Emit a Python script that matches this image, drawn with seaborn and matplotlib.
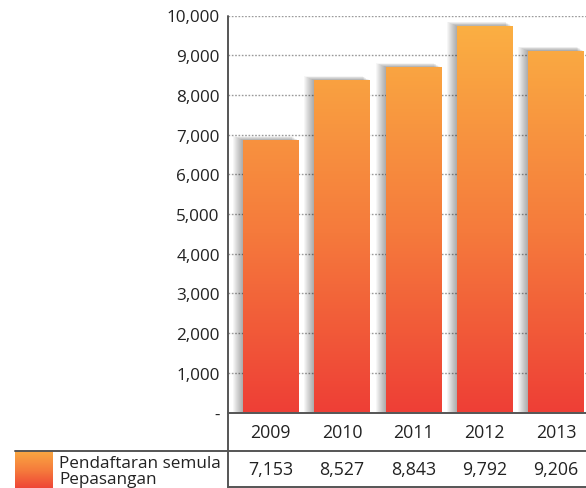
import numpy as np
import pandas as pd
import matplotlib
matplotlib.use("Agg")
import matplotlib.pyplot as plt
import seaborn as sns
from matplotlib.colors import LinearSegmentedColormap
from matplotlib.patches import Rectangle
from matplotlib.lines import Line2D
import matplotlib.transforms as mtransforms

# ---- data ----
years = ["2009", "2010", "2011", "2012", "2013"]
bar_heights = [6860, 8372, 8697, 9736, 9110]          # as drawn in the picture
table_values = ["7,153", "8,527", "8,843", "9,792", "9,206"]
series_label = "Pendaftaran semula\nPepasangan"
y_ticks = [0, 1000, 2000, 3000, 4000, 5000, 6000, 7000, 8000, 9000, 10000]
y_ticklabels = ["-", "1,000", "2,000", "3,000", "4,000", "5,000",
                "6,000", "7,000", "8,000", "9,000", "10,000"]

sns.set_style("white")
plt.rcParams["font.family"] = ["Open Sans", "DejaVu Sans"]

W, H = 586, 489
fig = plt.figure(figsize=(W / 100, H / 100), dpi=100)
ax_left, ax_right = 228 / W, 1.0
ax_bottom, ax_top = (H - 413.5) / H, (H - 16.5) / H
ax = fig.add_axes([ax_left, ax_bottom, ax_right - ax_left, ax_top - ax_bottom])

df = pd.DataFrame({"year": years, "value": bar_heights})
sns.barplot(data=df, x="year", y="value", ax=ax, width=0.78,
            color="#F47B3C", saturation=1, zorder=3)

ax.set_xlim(-0.6, 4.42)
ax.set_ylim(0, 10000)
ax.set_yticks(y_ticks)
ax.set_yticklabels(y_ticklabels, fontsize=12.3, color="#222222")
ax.tick_params(axis="y", length=0, pad=6)
ax.set_xticks([])
ax.set_xlabel("")
ax.set_ylabel("")
for s in ["top", "right", "bottom", "left"]:
    ax.spines[s].set_visible(False)

# dotted gridlines
for t in y_ticks[1:]:
    ax.axhline(t, color="#9a9a9a", lw=1.0, ls=(0, (1.2, 1.2)), zorder=1)

cmap = LinearSegmentedColormap.from_list(
    "grad", [(0.0, "#EE3F36"), (0.45, "#F57A3C"), (1.0, "#FBB243")])
grad = np.linspace(0, 1, 256).reshape(-1, 1)

px = (4.42 + 0.6) / (W - 228)  # data units per pixel in x
py = 10000 / 397.0
for bar in list(ax.patches):
    x0, w, h = bar.get_x(), bar.get_width(), bar.get_height()
    # soft shadow
    for k in range(1, 11):
        ax.add_patch(Rectangle((x0 - k * px, 0), w + k * px * 0.3, h + k * py * 0.4,
                               facecolor="#000000", alpha=0.035, lw=0, zorder=2))
    bar.set_facecolor("none")
    bar.set_edgecolor("none")
    im = ax.imshow(grad, extent=[x0, x0 + w, 0, 10000], origin="lower",
                   cmap=cmap, aspect="auto", zorder=3)
    clip = Rectangle((x0, 0), w, h, transform=ax.transData)
    im.set_clip_path(clip)
ax.set_xlim(-0.6, 4.42)
ax.set_ylim(0, 10000)

# axis lines and table lines (figure pixel coords)
def fx(x):
    return x / W

def fy(y):
    return (H - y) / H

line_c = "#555555"
fig.add_artist(Line2D([fx(228), fx(228)], [fy(16.5), fy(489)], color=line_c, lw=1.4))
fig.add_artist(Line2D([fx(228), fx(586)], [fy(414), fy(414)], color=line_c, lw=1.4))
fig.add_artist(Line2D([fx(15), fx(586)], [fy(452), fy(452)], color=line_c, lw=1.4))
fig.add_artist(Line2D([fx(228), fx(586)], [fy(488), fy(488)], color=line_c, lw=1.4))

# table text
trans = mtransforms.blended_transform_factory(ax.transData, fig.transFigure)
for i, (yr, val) in enumerate(zip(years, table_values)):
    ax.text(i, fy(433), yr, transform=trans, ha="center", va="center",
            fontsize=12.8, color="#222222", clip_on=False)
    ax.text(i, fy(470), val, transform=trans, ha="center", va="center",
            fontsize=12.8, color="#222222", clip_on=False)

# legend swatch
sw = fig.add_axes([fx(15), fy(489), fx(53) - fx(15), fy(452) - fy(489)])
sw.imshow(np.linspace(0, 1, 100).reshape(-1, 1) * 0.85 + 0.05, origin="lower",
          cmap=cmap, aspect="auto", vmin=0, vmax=1)
sw.set_axis_off()
fig.text(fx(59), fy(472), series_label, ha="left", va="center",
         fontsize=12.3, color="#222222", linespacing=0.95)

fig.savefig("out.png", dpi=100)
